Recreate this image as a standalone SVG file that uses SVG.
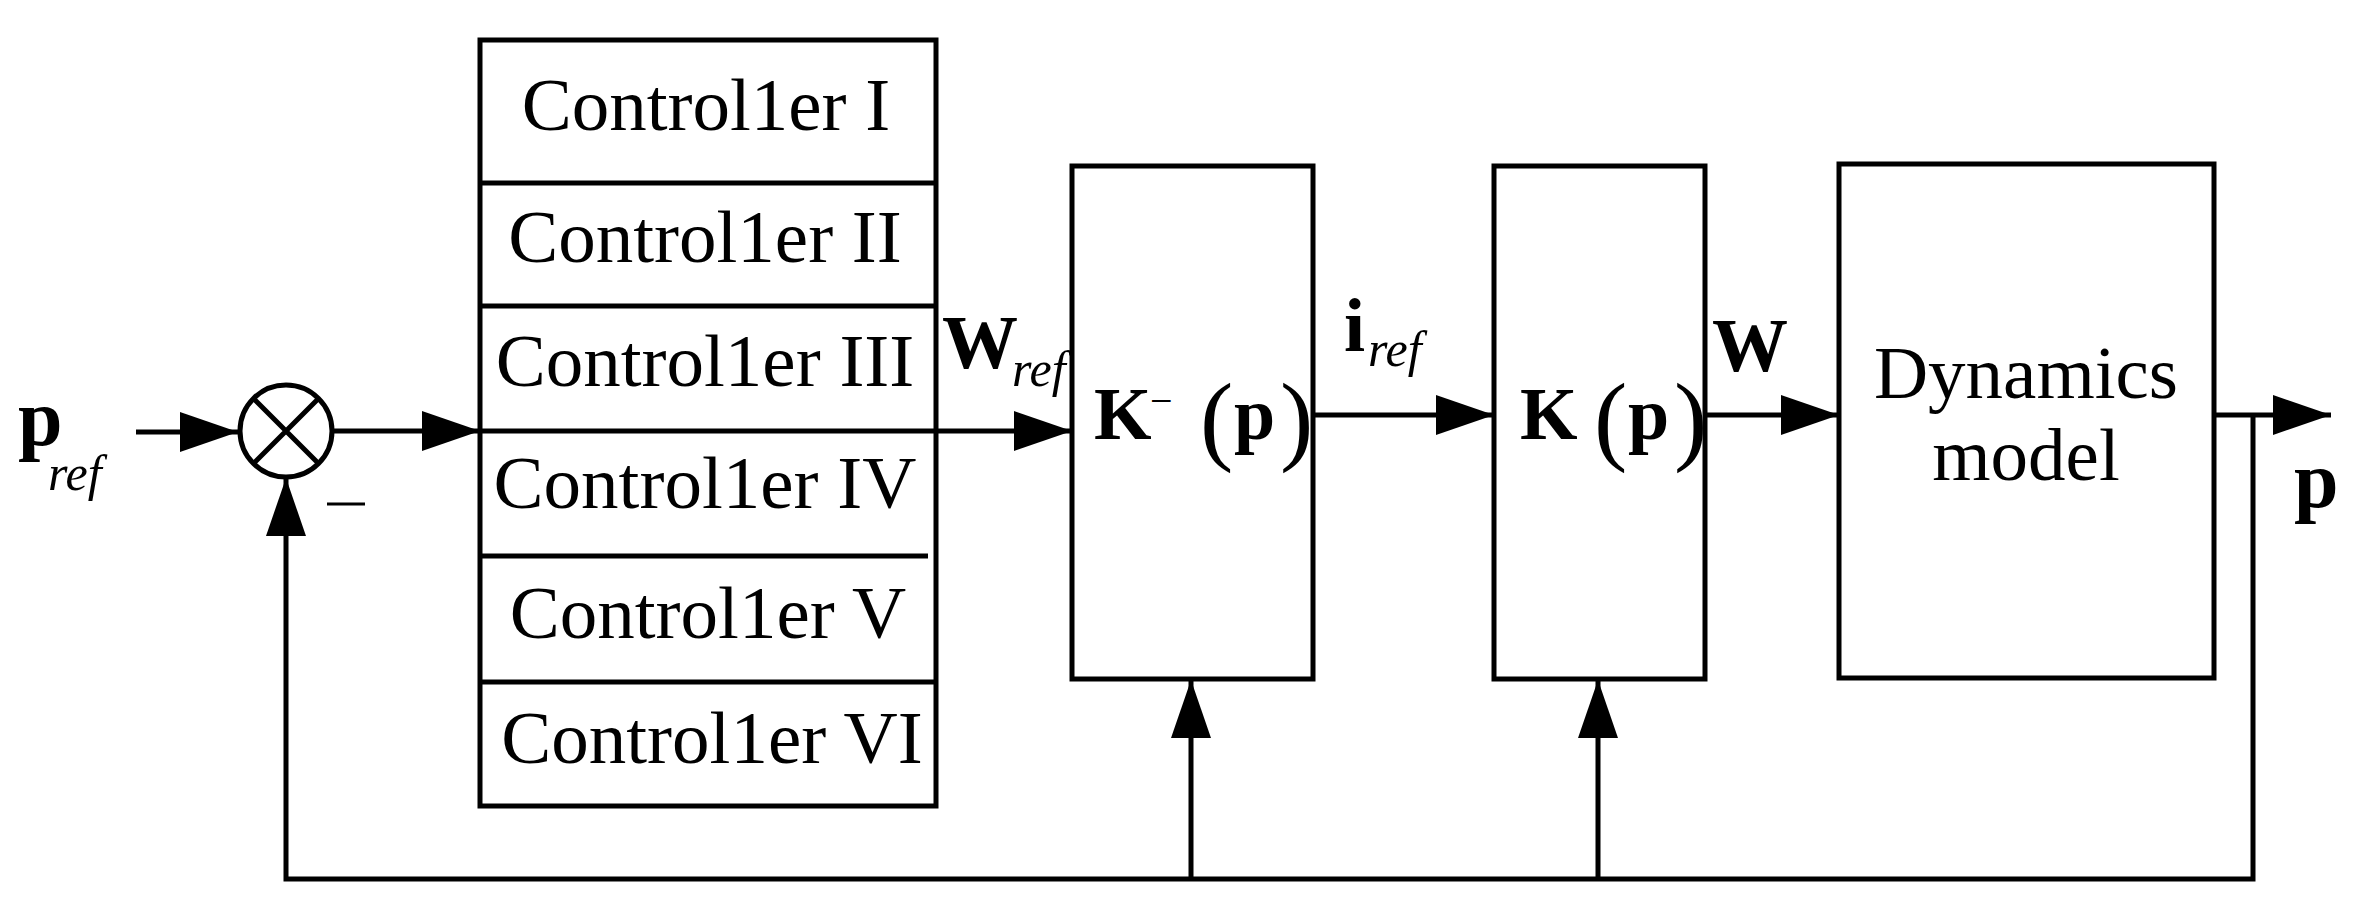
<svg xmlns="http://www.w3.org/2000/svg" width="2364" height="924" viewBox="0 0 2364 924">
<style>
.s{fill:none;stroke:#000;stroke-width:5}
.t{font-family:"Liberation Serif",serif;fill:#000}
.c{font-size:75px;text-anchor:middle}
.b{font-weight:bold}
.i{font-style:italic}
</style>
<defs><marker id="a" markerUnits="userSpaceOnUse" markerWidth="60" markerHeight="44" refX="58" refY="22" orient="auto"><path d="M0,2 L58,22 L0,42 Z" fill="#000"/></marker></defs>
<rect width="2364" height="924" fill="#fff"/>
<g id="connectors" class="s">
<path d="M136,432 H238" marker-end="url(#a)"/>
<path d="M332,431 H480" marker-end="url(#a)"/>
<path d="M480,431 H1072" marker-end="url(#a)"/>
<path d="M1313,415 H1494" marker-end="url(#a)"/>
<path d="M1705,415 H1839" marker-end="url(#a)"/>
<path d="M2214,415 H2331" marker-end="url(#a)"/>
<path d="M2253,415 V879 H286 V478" marker-end="url(#a)"/>
<path d="M1191,879 V680" marker-end="url(#a)"/>
<path d="M1598,879 V680" marker-end="url(#a)"/>
</g>
<g id="sum" class="s"><circle cx="286" cy="431" r="46"/><path d="M253,398 L319,464 M319,398 L253,464"/></g>
<g id="controllers">
<rect class="s" x="480" y="40" width="456" height="766"/>
<path class="s" d="M480,183 H938 M478,306 H936 M480,556 H928 M480,682 H936"/>
<text class="t c" x="706" y="130">Control1er I</text>
<text class="t c" x="705" y="262">Control1er II</text>
<text class="t c" x="705" y="386">Control1er III</text>
<text class="t c" x="705" y="508">Control1er IV</text>
<text class="t c" x="708" y="638">Control1er V</text>
<text class="t c" x="712" y="763">Control1er VI</text>
</g>
<g id="kinv"><rect class="s" x="1072" y="166" width="241" height="513"/>
<text class="t" y="439" font-size="74"><tspan x="1094" class="b">K</tspan><tspan x="1150" y="414" font-size="40">−</tspan><tspan x="1200" y="452" font-size="100">(</tspan><tspan x="1234" y="439" class="b">p</tspan><tspan x="1280" y="452" font-size="100">)</tspan></text></g>
<g id="k"><rect class="s" x="1494" y="166" width="211" height="513"/>
<text class="t" y="439" font-size="74"><tspan x="1520" class="b">K</tspan><tspan x="1594" y="452" font-size="100">(</tspan><tspan x="1628" y="439" class="b">p</tspan><tspan x="1674" y="452" font-size="100">)</tspan></text></g>
<g id="dyn"><rect class="s" x="1839" y="164" width="375" height="514"/>
<text class="t c" x="2026" y="398" font-size="78">Dynamics</text><text class="t c" x="2026" y="480" font-size="78">model</text></g>
<g id="labels">
<text class="t b" x="18" y="445" font-size="80">p</text>
<text class="t i" x="48" y="490" font-size="50">ref</text>
<path d="M327,504 H365" stroke="#000" stroke-width="3"/>
<text class="t b" x="942" y="368" font-size="76">W</text>
<text class="t i" x="1012" y="386" font-size="50">ref</text>
<text class="t b" x="1344" y="351" font-size="76">i</text>
<text class="t i" x="1368" y="366" font-size="50">ref</text>
<text class="t b" x="1712" y="371" font-size="76">W</text>
<text class="t b" x="2294" y="507" font-size="80">p</text>
</g>
</svg>
